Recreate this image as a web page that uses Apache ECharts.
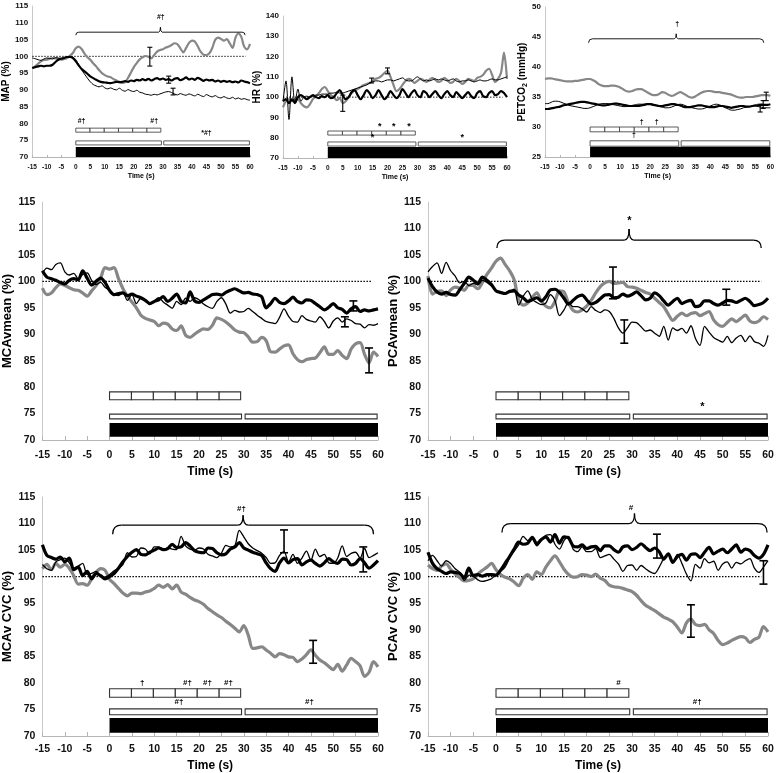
<!DOCTYPE html>
<html><head><meta charset="utf-8">
<script src="https://cdn.jsdelivr.net/npm/echarts@6/dist/echarts.min.js"></script>
<style>html,body{margin:0;padding:0;background:#fff}#c{width:777px;height:773px}</style>
</head><body><div id="c"></div>
<script>
const times = [
-15,-14,-13,-12,-11,-10,-9,-8,-7,-6,-5,-4,-3,-2,-1,
0,1,2,3,4,5,6,7,8,9,10,11,12,13,14,15,16,17,18,19,20,21,22,23,24,25,26,27,28,29,
30,31,32,33,34,35,36,37,38,39,40,41,42,43,44,45,46,47,48,49,50,51,52,53,54,55,56,57,58,59,60];
const xTicks = [-15, 60, 5];
const baselineX = [-15, 58.5];

// ---------- MAP ----------
const mapThick = [96.5,96.8,97,97.2,97,97.2,97.2,97.5,98.3,99,99.3,99.5,99.8,99.8,99.5,
98.5,97.3,96.2,95.5,94.8,94,93.5,93,92.6,92.3,
92.2,92.1,92,92.2,92.4,92.3,92.4,92.6,92.4,92.8,
92.6,93,92.8,93.2,92.9,93.3,92.8,93.2,93.5,93.1,
93.4,93,93.2,92.8,93.3,93.5,92.9,93.2,93.7,93.1,
93.4,93,93.6,93.2,92.7,93.1,92.8,93,92.5,92.8,
92.4,92.7,92.4,92.6,92.3,92.5,92.2,92.8,92.5,92.3,92];
const mapThin = [99.5,99.3,99,98.8,99.2,99.5,99.4,99.2,99.6,99.5,99.4,99.6,99.8,100,99.8,
99,97.5,96,94.7,93.5,92.4,91.6,91.2,90.9,91.2,
90.6,90.3,90.6,90.2,90,90.5,89.9,89.6,90.1,89.7,
89.5,89.9,89.3,89.1,88.7,88.6,88.4,88.7,88.5,88.8,
89.1,89.4,89.5,89.2,88.8,88.5,88.9,88.6,88.4,88.8,
88.5,88.2,88.7,88.3,88,88.6,88.2,87.9,88.3,87.8,
87.6,88,87.6,87.4,87.8,87.3,87.6,87.2,87.4,87.1,86.9];
const mapGrey = [96.4,97,97.8,98.5,98.9,99,99.3,99.5,99.4,99.2,99,99.2,99.5,100.2,101,
102.4,102.9,102.2,100.8,99.7,99,97.9,97,95.9,95,
94.4,94,93.8,93.2,92.8,92.4,92.1,92.3,93.6,95.2,
96.8,98,99.1,99.7,100.1,99.9,99.4,100.4,101.4,101.9,
102.1,102.6,102.9,103.4,103.9,103.6,102.4,101.2,102.5,104,
104.7,104.4,103,101.4,100.5,100.4,100.9,102.5,104.9,105.6,
105.2,104.7,105.1,103.9,102.5,105.6,106.8,105.8,102.9,102.1,103.7];
const mapErr = [[25.5, 97.1, 102.7], [32, 92.0, 94.1], [33.5, 88.5, 90.5]];
const mapBrace = [[0, 58.3, 107.2]];
const mapMarks = [[2, 80.6, '#†'], [27, 80.6, '#†'], [45, 77.1, '*#†'], [29.3, 111.6, '#†']];
const mapBoxY = [77.4, 78.6, 73.6, 74.8, 70, 73];

// ---------- HR ----------
const hrThick = [98,99,97,99,97,100,101,100,99,100,101,100,99.5,100.5,100,
101,99.5,100,102,103.5,101,99,100,102.5,103.5,
101,99,101,103.5,102,99.5,101,103.5,101,99,
100.5,103,101,99.5,101,104,102,100,102,103.5,
101,100,103,102,100,101.5,103,101,99.5,101.5,
103,101,100,102.5,101,99.5,101,102.5,100.5,99.5,
102,103,100.5,100,102,103,101,101.5,103,102,100];
const hrThin = [98,108,89,110,97,104,98,100,100.5,100,100.5,101,101,101.5,101.5,
101.5,102,102,102.5,102,102,102.5,103,103.5,104,
104.5,105,105.5,106,107,107.5,108,108,107.5,108,
108.5,108.5,108,108.5,109,109.5,108.5,108,108,109,
110,109,108,108.5,108,108.5,109,108.5,109,108.5,
108,108.5,109,108,107.5,108,108,108.5,108,107.5,
108,108.5,108,108,108.5,109,108.5,108.5,109,109.5,110];
const hrGrey = [95,98,99,98,99,99,97,95.5,95,96.5,99,100.5,102,104,105,
103,101,100,98.5,99.5,97,98,100,102,103.5,
104,105,106,106.5,107,108,109,109.5,110.5,112,
113,110,106,103,104,106,108,109,108.5,107,
108,109,108.5,107.5,108.5,109.5,108.5,107.5,108,109.5,
108.5,107,107.5,109,108,106.5,107.5,109,108.5,108,
109.5,110,111,113,114,111,107.5,109,112,122,109];
const hrErr = [[5, 93, 101], [14.7, 107, 109.4], [20, 111.5, 114.4]];
const hrMarks = [[17.4, 85.3, '*'], [22.1, 85.3, '*'], [27.2, 85.3, '*'], [15, 79.9, '*'], [45, 79.9, '*']];
const hrBoxY = [81.3, 83.3, 75.9, 77.9, 70, 75.4];

// ---------- PETCO2 ----------
const petThick = [33,33,33.1,33.2,33.3,33.4,33.6,33.7,33.8,33.9,34,34.1,34.2,34.2,34.1,
34,33.9,33.8,33.7,33.6,33.6,33.7,33.8,33.9,33.9,
33.8,33.7,33.6,33.5,33.5,33.5,33.5,33.6,33.7,33.8,
33.8,33.7,33.6,33.5,33.5,33.6,33.7,33.8,33.8,33.7,
33.6,33.4,33.3,33.3,33.4,33.5,33.6,33.6,33.5,33.4,
33.3,33.3,33.4,33.5,33.5,33.4,33.3,33.2,33.3,33.4,
33.5,33.5,33.4,33.4,33.5,33.6,33.6,33.7,33.7,33.7,33.8];
const petThin = [33.9,33.9,34.1,34.3,34.3,34.2,34,33.8,33.6,33.5,33.4,33.3,33.2,33.1,33.1,
33.2,33.4,33.6,33.8,33.9,33.9,33.9,33.8,33.7,33.6,
33.5,33.4,33.4,33.5,33.6,33.7,33.8,33.8,33.8,33.9,
33.9,33.8,33.6,33.4,33.3,33.2,33.2,33.3,33.5,33.7,
33.8,33.7,33.5,33.3,33.2,33.1,33,33,33.1,33.3,
33.5,33.7,33.8,33.7,33.5,33.2,33,32.8,32.8,32.9,
33,33.2,33.3,33.4,33.5,33.5,33.4,33.3,33.2,33.2,33.2];
const petGrey = [38,38.1,38.1,38,37.9,37.8,37.7,37.6,37.6,37.6,37.7,37.7,37.8,37.9,38,
38,37.8,37.5,37.1,36.9,36.8,36.8,36.9,36.9,36.8,
36.6,36.3,36,35.9,36,36.2,36.3,36.3,36.1,35.8,
35.5,35.3,35.3,35.5,35.8,35.7,35.4,35.2,35.3,35.6,
35.8,35.6,35.3,35,34.9,35.1,35.4,35.7,35.9,36,
36,35.9,35.8,35.8,35.7,35.6,35.5,35.4,35.2,35,
34.9,34.9,35,35,35,35.1,35.2,35.3,35.3,35.3,35.2];
const petErr = [[56.6, 32.5, 33.8], [57.6, 33.1, 34.4], [58.6, 34.4, 35.8]];
const petBrace = [[-0.5, 57.8, 44.7]];
const petMarks = [[17.2, 30.9, '†'], [22.2, 30.9, '†'], [14.6, 28.6, '†'], [29, 47.1, '†']];
const petBoxY = [29.2, 30, 26.8, 27.7, 25, 26.7];

// ---------- MCAvmean ----------
const mcaThick = [102,100.8,100.5,100.2,99.8,99.5,100.2,100.5,100.3,102,100.6,99.3,100,100.6,99.8,
98.3,97.5,97.7,97.8,97.3,97.6,97.2,96.9,96.4,95.8,
96.2,96.5,97.1,96.2,96.8,97.6,96.2,95.9,98,96.3,
96,96.5,97,97.5,97.6,97.4,97.9,98.3,98.6,98.2,
97.8,97.9,97.6,97.5,97.1,95,95.8,96.8,96,95.8,
96.3,97,96.2,95.9,96.5,96.4,95.8,95.2,94.6,95.1,
95.8,95,94.7,94,94.8,95.2,94.3,94.6,94.4,94.6,94.8];
const mcaThin = [101.5,102.5,102.2,103.2,103.5,101.8,101.2,101.5,100.5,101.3,101.6,100.2,99.4,99.8,98.9,
98.3,97.5,97.3,97.8,96.4,97.5,95.8,96.8,96.5,95.6,
96.3,96.9,96.1,95.5,94.9,96.2,95.6,96.8,96.2,96.9,
96.5,95.7,95.2,94.9,96.2,96.9,95.7,94,94.5,94.2,
94.3,94.9,94.3,93.6,93,92.4,92.2,92,93.2,94.8,
93.4,92.4,92.3,93.5,92.8,92.5,92.3,93.3,92.4,91.2,
92.5,93.1,92.3,92.9,92.6,92,91.9,91.2,91.8,91.7,92];
const mcaGrey = [98.7,97.5,97.8,98.8,99.5,99.2,98.8,98.4,98.3,97.8,97.2,98.2,99.2,100.6,102.6,
102.3,102.6,100.5,98.6,97.2,96.1,95,93.6,93,92.7,
92.4,91.6,92.1,91.9,91,90.7,91.6,89.8,89.4,90,
90.6,91,90.9,91.7,93.1,92.8,92.3,91.6,90.8,90.4,
90.3,89.5,88.5,88.6,89.4,88.8,86.7,86.6,87.2,87.8,
88,86.3,85.2,84.8,85.2,85.4,85.5,86.5,87.6,86.2,
86.2,86.9,86,85.4,87.2,88.2,88.4,86.2,84.6,86.6,85.8];
const mcaErr = [[54.5, 94.4, 96.3], [52.6, 91.4, 93.3], [58, 82.7, 87.4]];
const mcaMarks = [];
const midBoxY = [77.6, 79.1, 74.0, 74.9, 70.6, 73.2];

// ---------- PCAvmean ----------
const pcaThick = [100.6,99,98,97.6,97.9,97.5,97.4,98.4,99.6,100.8,100.2,99.6,100.8,100.2,99.4,
98.2,97.9,97.7,98.1,98.2,97.4,96.9,96.2,96.5,96.9,
96.3,97.1,98.4,98.5,97.9,96.8,95.7,96.4,97.1,97.4,
96.5,95.7,96,96.7,97.4,97.5,96.9,97,97.6,97.2,
97.5,98,97.3,96.5,96.8,97.8,97.3,96.3,95.5,96.2,
96.8,95.8,96.2,96.4,95.2,95.4,96.3,96.3,95.8,95.5,
95.9,96.4,96.3,96,96.4,96.8,96.2,95.4,95.6,96,96.8];
const pcaThin = [101.8,102.8,103.5,101.5,103.6,102,101,99.7,100,99.2,99.6,99.3,100.2,99.8,99.1,
98.3,98,97.8,98.1,98.5,95.5,97.2,98.2,96.6,96,
95.6,95.9,97.5,96.4,93.5,94.6,96,95.2,95.2,94.8,
94.2,95.2,94.5,94.1,94.6,94.3,93,91.2,90.2,91.2,
92.3,92.2,91.4,90.6,90.8,90.2,89.6,91.5,88.9,91.2,
90.7,91.1,90.2,91.6,89.2,87.9,91.5,90.4,89.4,88.9,
88.5,89.6,88.4,89.3,89.8,88.6,89.7,88.6,88.3,87.7,89.8];
const pcaGrey = [101,97.6,98.1,98.2,97.3,98.4,98.9,98.7,98.3,99.3,99.2,98.6,99.8,101.3,102.5,
103.8,104.4,103.2,102,100.3,96.5,95.5,95.9,97,97.8,
96.2,95.3,95,96.2,98.2,98,95.9,94.5,94.2,94.6,
95.3,96.4,97.8,99,99.7,100,99.6,99.7,99.8,99,
98.9,98.7,98.3,97.9,97.6,96.8,96,95.2,93.8,92.6,
93.4,94,93.5,93.9,94.1,93.5,93.9,94.3,92.7,91.8,
91.5,92.2,92.9,92.4,93,93.6,92.5,92.2,92.5,93.3,92.8];
const pcaErr = [[25.8, 96.7, 102.7], [28.3, 88.3, 92.7], [50.8, 95.5, 98.5]];
const pcaBrace = [[0.2, 58.5, 107.8]];
const pcaMarks = [[29.4, 111.4, '*'], [45.5, 76.3, '*']];

// ---------- MCAv CVC ----------
const mcvcThick = [106,104,103.6,103.3,103.7,102.8,103.5,101.3,101.8,100.2,101,99.6,100.6,100.2,99.6,
100,100.6,101.6,102.8,103.8,104.6,105.1,104.2,104.1,104.6,
105,105.4,105.1,105.3,106.1,105.5,105.6,106.4,105.8,104.9,
104.6,104.5,105.4,105.3,104.5,104.1,104.3,105.2,105.6,106.4,
105.4,105,104.6,104.3,104,102.6,101.5,101,102.6,103.5,
102.6,103.2,103.4,102.2,102.8,103.1,102.5,102,102.6,103.4,
102.8,102.5,103.3,103.2,102.2,102.5,103.4,102.6,101.6,102.2,103];
const mcvcThin = [102.3,101.5,101.2,102.8,103.2,103.5,102.6,101.6,102,102.5,100.4,100.6,101,100.2,99.9,
100.4,101.1,101.6,102.3,104.5,103.7,103.8,105.4,105.2,104.3,
105.6,105.6,105,105.4,105.2,105.1,107.6,105.8,105.2,105,
105.4,105.2,104.2,103.9,103.6,104.4,105.9,105.6,105.8,108.7,
107.5,106.2,105.4,104.9,104.4,103.6,102.5,102.6,104,104.7,
102.8,104.2,102.5,103.5,104.8,103.1,105.2,103.8,104.2,102.6,
102.5,103.5,105.8,103.8,104.4,104.6,103.5,105.3,103.6,104,104.5];
const mcvcGrey = [101.5,102.3,101.3,102.5,101.8,102.3,101.6,100.2,98.6,98.7,98.4,99.6,100.8,101.5,101.2,
99.5,98.7,97.8,96.9,96.4,96.9,96.9,96.8,97.1,97.3,
97.8,98.4,98,98.5,97.7,98.4,97.1,96.7,96.1,95.6,
95.3,94.8,94,93.4,92.8,92.3,91.6,91,90.3,89.6,
90.8,89,86.5,86.6,86.8,86.2,85.6,84.9,85.5,85.3,
84.9,84.8,84,84.5,85.3,86.2,85.2,84.3,83.8,83.1,
82.5,83.5,82.2,83.4,84.6,84,83.2,81.2,82,84,83];
const mcvcErr = [[39, 104.5, 108.8], [56.7, 100.9, 105.6], [45.5, 83.7, 88]];
const mcvcBrace = [[0.7, 59, 109.7]];
const mcvcMarks = [[7.3, 80.1, '†'], [17.4, 80.1, '#†'], [21.9, 80.1, '#†'], [26.6, 80.1, '#†'], [15.5, 76.4, '#†'], [44.7, 76.4, '#†'], [29.5, 112.7, '#†']];
const botBoxY = [77.3, 78.9, 74.0, 75.1, 70.6, 73.4];

// ---------- PCAv CVC ----------
const pcvcThick = [104.6,102.5,101.5,101,100.6,100.9,100.8,100.6,99.8,101.6,100.2,100.4,100.1,100.4,100.4,
100.3,101.2,102.5,103.8,105.2,106.5,106.1,106.3,107.4,106.2,
107,107.5,106.5,107.9,106.3,107.5,107.3,105.8,105.6,106,
105.3,105.6,105.7,104.9,105.8,105.8,105.1,104.6,105.6,105.8,
105.1,105.5,106.2,105.5,104.9,105.4,104.7,103.3,104.3,102.7,
103.8,104.2,103.1,104.2,104.3,103.6,104.6,105.5,104.3,104.8,
105.2,104.5,105.2,106,104.6,105.2,104.9,104,103.5,104.2,106];
const pcvcThin = [103,104,103,102,103,102.5,101.5,100.8,99.3,100.3,100.1,99.4,99.1,99.3,99.6,
100.4,101,101.8,103.5,104.8,106,107.6,106.8,107.2,105.8,
106.8,107.8,107.9,106.1,105.2,106.8,107.6,105.2,104.7,105.6,
104.7,104.7,105.3,103.6,103.9,104.2,103.3,102.4,101,102.1,
102.2,101.2,102.1,101.5,100.9,100.6,101.8,103.4,104.3,102.6,
104.2,102.5,100.5,99.2,102.3,101.6,103.4,102.6,102.9,101.2,
102.4,102.8,101.6,102.7,102.4,103,103.4,101.6,100.8,101.8,103];
const pcvcGrey = [102.2,101.5,101.2,102,102.4,101.4,100.5,99.8,99.2,99.3,99.6,100.5,101.2,101.8,102.5,
101.3,100.4,99.9,99.6,99,98.3,99.7,100.4,99.5,100.9,
100.4,101.8,103,103.9,102.8,101.4,100.4,99.9,100,100.4,
100.3,100,100.5,99.7,99.3,98.4,98.1,98,97.8,97.5,
97.2,96.5,95.5,94.6,94.1,93.6,93,92.4,92,91.5,
90.5,89.4,91.3,92,91,90.8,91,90,89.3,88,
87.2,87.5,88,88.4,88.7,88.5,87.6,88.2,88.6,90.6,89.6];
const pcvcErr = [[35.5, 103.5, 108], [59, 98.6, 103], [43, 88.6, 94.7]];
const pcvcBrace = [[1.3, 59.8, 110]];
const pcvcMarks = [[27, 80.1, '#'], [44.4, 76.4, '#†'], [29.8, 112.9, '#']];

// box intervals (seconds)
const smallBoxEdges = [0, 4.9, 9.8, 14.7, 19.6, 24.5, 29.3];
const longBoxes = [[0, 29.5], [30.3, 59.8]];
const blackBox = [0, 60];

// ================= rendering =================
const FONT = '"Liberation Sans", Arial, sans-serif';
const GREY = '#878787';

const panels = [
  {grid:{left:24, top:6, width:226, height:151}, y:[70,115,5], name:'MAP (%)', small:true,
   thick:mapThick, thin:mapThin, grey:mapGrey, err:mapErr, brace:mapBrace, marks:mapMarks, boxY:mapBoxY, base:100,
   nameGap:10, braceDrop:3, bracePeak:5},
  {grid:{left:283, top:16, width:224, height:142}, y:[70,140,10], name:'HR (%)', small:true,
   thick:hrThick, thin:hrThin, grey:hrGrey, err:hrErr, brace:[], marks:hrMarks, boxY:hrBoxY, base:100,
   nameGap:12},
  {grid:{left:545, top:7, width:226, height:150}, y:[25,50,5], name:'PETCO{s|2} (mmHg)', small:true,
   thick:petThick, thin:petThin, grey:petGrey, err:petErr, brace:petBrace, marks:petMarks, boxY:petBoxY, base:null,
   nameGap:13, braceDrop:4, bracePeak:5},
  {grid:{left:38, top:202, width:340, height:238}, y:[70,115,5], name:'MCAvmean (%)',
   thick:mcaThick, thin:mcaThin, grey:mcaGrey, err:mcaErr, brace:[], marks:mcaMarks, boxY:midBoxY, base:100,
   nameGap:21, xLabelMargin:10, xNameGap:26},
  {grid:{left:428, top:202, width:340, height:238}, y:[70,115,5], name:'PCAvmean (%)',
   thick:pcaThick, thin:pcaThin, grey:pcaGrey, err:pcaErr, brace:pcaBrace, marks:pcaMarks, boxY:midBoxY, base:100,
   nameGap:21, xLabelMargin:10, xNameGap:26, braceDrop:8, bracePeak:11},
  {grid:{left:38, top:497, width:340, height:239}, y:[70,115,5], name:'MCAv CVC (%)',
   thick:mcvcThick, thin:mcvcThin, grey:mcvcGrey, err:mcvcErr, brace:mcvcBrace, marks:mcvcMarks, boxY:botBoxY, base:100,
   nameGap:21, xLabelMargin:8, xNameGap:24, braceDrop:9, bracePeak:10},
  {grid:{left:428, top:497, width:340, height:239}, y:[70,115,5], name:'PCAv CVC (%)',
   thick:pcvcThick, thin:pcvcThin, grey:pcvcGrey, err:pcvcErr, brace:pcvcBrace, marks:pcvcMarks, boxY:botBoxY, base:100,
   nameGap:21, xLabelMargin:8, xNameGap:24, braceDrop:9, bracePeak:10}
];

const grids = [], xAxes = [], yAxes = [], series = [];
panels.forEach((p, gi) => {
  const sm = !!p.small;
  grids.push(Object.assign({containLabel:false}, p.grid));
  xAxes.push({
    type:'value', gridIndex:gi, min:xTicks[0], max:xTicks[1], interval:xTicks[2],
    name:'Time (s)', nameLocation:'middle', nameGap: sm ? 16 : p.xNameGap,
    nameTextStyle:{fontFamily:FONT, fontWeight:'bold', fontSize: sm ? 7 : 12, color:'#000'},
    axisLine:{show:true, onZero:false, lineStyle:{color:'#b5b5b5', width:1}},
    axisTick:{show:true, inside:true, length: sm ? 2 : 4, lineStyle:{color:'#b5b5b5'}},
    splitLine:{show:false},
    axisLabel:{fontFamily:FONT, fontWeight:'bold', fontSize: sm ? 6.5 : 10.5, color:'#111', margin: sm ? 7 : p.xLabelMargin}
  });
  yAxes.push({
    type:'value', gridIndex:gi, min:p.y[0], max:p.y[1], interval:p.y[2],
    name:p.name, nameLocation:'middle', nameGap:p.nameGap, nameRotate:90,
    nameTextStyle:{fontFamily:FONT, fontWeight:'bold', fontSize: sm ? 10 : 13, color:'#000',
      rich:{s:{fontFamily:FONT, fontWeight:'bold', fontSize:7, color:'#000', verticalAlign:'bottom', padding:[5,0,0,0]}}},
    axisLine:{show:true, onZero:false, lineStyle:{color:'#c8c8c8', width:1}},
    axisTick:{show:false}, splitLine:{show:false},
    axisLabel:{fontFamily:FONT, fontWeight:'bold', fontSize: sm ? 8 : 10.5, color:'#111', margin: sm ? 4 : 7}
  });

  // boxes
  const by = p.boxY;
  const boxData = [];
  boxData.push([blackBox[0], blackBox[1], by[4], by[5], 1]);
  longBoxes.forEach(b => boxData.push([b[0], b[1], by[2], by[3], 0]));
  for (let i = 0; i < smallBoxEdges.length - 1; i++) boxData.push([smallBoxEdges[i], smallBoxEdges[i+1], by[0], by[1], 0]);
  series.push({
    type:'custom', xAxisIndex:gi, yAxisIndex:gi, clip:false, silent:true, z:1, data:boxData,
    renderItem:(params, api) => {
      const a = api.coord([api.value(0), api.value(3)]);
      const b = api.coord([api.value(1), api.value(2)]);
      const blk = api.value(4) === 1;
      return {type:'rect', shape:{x:a[0], y:a[1], width:b[0]-a[0], height:b[1]-a[1]},
        style:{fill: blk ? '#000' : '#fff', stroke: blk ? '#000' : '#333', lineWidth: blk ? 0 : (sm ? 0.8 : 1.1)}};
    }
  });

  // baseline
  if (p.base !== null) {
    series.push({type:'line', xAxisIndex:gi, yAxisIndex:gi, symbol:'none', silent:true, z:2,
      data:[[baselineX[0], p.base], [baselineX[1], p.base]],
      lineStyle:{color:'#000', width: sm ? 0.9 : 1.2, type:[1.5, 1.5]}});
  }

  const wThick = sm ? 2.2 : 3.2, wThin = sm ? 1 : 1.3;
  const mk = (arr, color, w, z) => ({type:'line', xAxisIndex:gi, yAxisIndex:gi, symbol:'none', smooth:0.3, z:z, silent:true,
    data: times.map((t, i) => [t, arr[i]]), lineStyle:{color:color, width:w}});
  series.push(mk(p.grey, GREY, wThick, 3));
  series.push(mk(p.thin, '#000', wThin, 4));
  series.push(mk(p.thick, '#000', wThick, 5));

  // error bars
  const cap = sm ? 2.5 : 4;
  series.push({
    type:'custom', xAxisIndex:gi, yAxisIndex:gi, clip:false, silent:true, z:6, data:p.err,
    renderItem:(params, api) => {
      const x = api.value(0);
      const lo = api.coord([x, api.value(1)]), hi = api.coord([x, api.value(2)]);
      const st = {stroke:'#000', lineWidth: sm ? 1.1 : 1.6};
      return {type:'group', children:[
        {type:'line', shape:{x1:lo[0], y1:lo[1], x2:hi[0], y2:hi[1]}, style:st},
        {type:'line', shape:{x1:lo[0]-cap, y1:lo[1], x2:lo[0]+cap, y2:lo[1]}, style:st},
        {type:'line', shape:{x1:hi[0]-cap, y1:hi[1], x2:hi[0]+cap, y2:hi[1]}, style:st}
      ]};
    }
  });

  // braces
  if (p.brace.length) {
    const d = p.braceDrop, pk = p.bracePeak;
    series.push({
      type:'custom', xAxisIndex:gi, yAxisIndex:gi, clip:false, silent:true, z:6, data:p.brace,
      renderItem:(params, api) => {
        const a = api.coord([api.value(0), api.value(2)]);
        const b = api.coord([api.value(1), api.value(2)]);
        const y = a[1], xm = (a[0] + b[0]) / 2, r = d;
        const st = {stroke:'#000', lineWidth: sm ? 0.9 : 1.3, fill:null};
        return {type:'group', children:[
          {type:'bezierCurve', shape:{x1:a[0], y1:y+d, cpx1:a[0], cpy1:y, x2:a[0]+r, y2:y}, style:st},
          {type:'line', shape:{x1:a[0]+r, y1:y, x2:xm-r*0.6, y2:y}, style:st},
          {type:'bezierCurve', shape:{x1:xm-r*0.6, y1:y, cpx1:xm, cpy1:y, x2:xm, y2:y-pk}, style:st},
          {type:'bezierCurve', shape:{x1:xm, y1:y-pk, cpx1:xm, cpy1:y, x2:xm+r*0.6, y2:y}, style:st},
          {type:'line', shape:{x1:xm+r*0.6, y1:y, x2:b[0]-r, y2:y}, style:st},
          {type:'bezierCurve', shape:{x1:b[0]-r, y1:y, cpx1:b[0], cpy1:y, x2:b[0], y2:y+d}, style:st}
        ]};
      }
    });
  }

  // significance marks
  if (p.marks.length) {
    const marks = p.marks;
    series.push({
      type:'custom', xAxisIndex:gi, yAxisIndex:gi, clip:false, silent:true, z:7,
      data: marks.map(m => [m[0], m[1]]),
      renderItem:(params, api) => {
        const pt = api.coord([api.value(0), api.value(1)]);
        const txt = marks[params.dataIndex][2];
        return {type:'text', x:pt[0], y:pt[1], style:{text:txt, fill:'#000', align:'center', verticalAlign:'middle',
          font: 'bold ' + (txt === '*' ? (sm ? 9 : 11) : (sm ? 7 : 8)) + 'px ' + FONT}};
      }
    });
  }
});

const chart = echarts.init(document.getElementById('c'), null, {renderer:'canvas'});
chart.setOption({animation:false, backgroundColor:'#fff', grid:grids, xAxis:xAxes, yAxis:yAxes, series:series});
</script>
</body></html>
